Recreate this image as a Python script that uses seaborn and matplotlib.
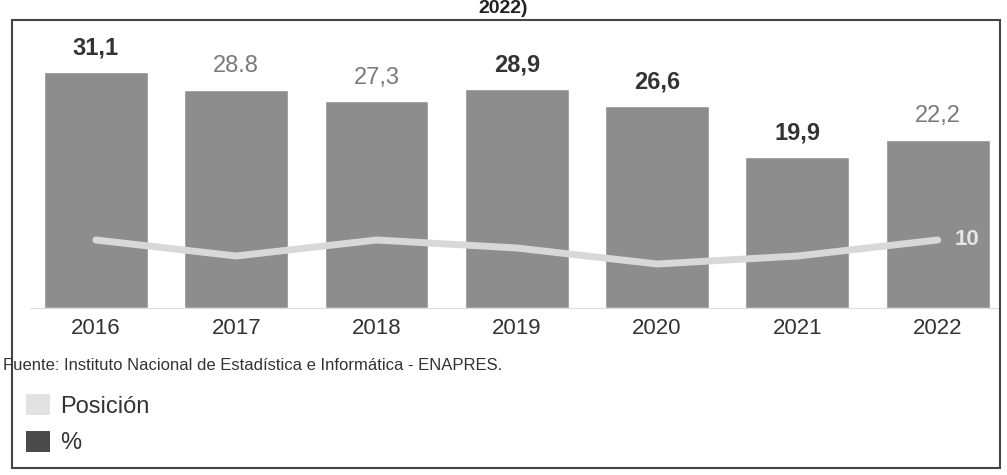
import numpy as np
import pandas as pd
import seaborn as sns
import matplotlib
matplotlib.use("Agg")
import matplotlib.pyplot as plt
from matplotlib.patches import Rectangle, Patch

years = ["2016", "2017", "2018", "2019", "2020", "2021", "2022"]
pct = [31.1, 28.8, 27.3, 28.9, 26.6, 19.9, 22.2]
pct_labels = ["31,1", "28.8", "27,3", "28,9", "26,6", "19,9", "22,2"]
label_bold = [True, False, False, True, True, True, False]
posicion = [10, 8, 10, 9, 7, 8, 10]

sns.set_style("white")
plt.rcParams['font.family'] = ['Liberation Sans', 'DejaVu Sans']

df = pd.DataFrame({'year': years, 'pct': pct, 'pos': posicion})

fig = plt.figure(figsize=(10.07, 4.75), dpi=100)
ax = fig.add_axes([30/1007, 1-308/475, 968/1007, 288/475])

sns.barplot(data=df, x='year', y='pct', color='#8d8d8d', saturation=1, width=0.74, ax=ax)
ax.set_xlim(-0.47, 6.43)
ax.set_ylim(0, 38)
for i, (v, lab, b) in enumerate(zip(pct, pct_labels, label_bold)):
    ax.annotate(lab, (i, v), xytext=(0, 9), textcoords='offset points', ha='center', va='bottom',
                fontsize=17, fontweight='bold' if b else 'normal',
                color='#333333' if b else '#7a7a7a')

# posicion en eje secundario
ax2 = ax.twinx()
sns.lineplot(data=df, x='year', y='pos', color='#d8d8d8', lw=5, ax=ax2, sort=False)
ax2.set_ylim(1.5, 37.5)
ax2.annotate(str(posicion[-1]), (len(years)-1, posicion[-1]), xytext=(12, 0), textcoords='offset points',
             ha='left', va='center', fontsize=16, fontweight='bold', color='#e6e6e6')

for a in (ax, ax2):
    a.set_xlabel('')
    a.set_ylabel('')
    a.set_yticks([])
    for s in a.spines.values():
        s.set_visible(False)
ax.spines['bottom'].set_visible(True)
ax.spines['bottom'].set_color('#dddddd')
ax.tick_params(axis='x', length=0, pad=7, labelsize=16, labelcolor='#333333')

fig.text(0.5, 0.999, "2022)", ha='center', va='top', fontsize=14, fontweight='bold', color='#222222')
fig.text(0.003, 1-365/475, "Fuente: Instituto Nacional de Estadística e Informática - ENAPRES.",
         ha='left', va='center', fontsize=12, color='#333333')

handles = [Patch(facecolor='#e2e2e2', edgecolor='none', label='Posición'),
           Patch(facecolor='#4a4a4a', edgecolor='none', label='%')]
fig.legend(handles=handles, loc='upper left', bbox_to_anchor=(26/1007, 1-394/475), frameon=False,
           fontsize=17, handlelength=1.0, handleheight=1.0, handletextpad=0.45, labelspacing=0.55,
           labelcolor='#333333', borderaxespad=0, borderpad=0)

fig.add_artist(Rectangle((12/1007, 1-468/475), 988/1007, 448/475, transform=fig.transFigure,
                         fill=False, edgecolor='#444444', lw=1.5))

fig.savefig("out.png", dpi=100)
